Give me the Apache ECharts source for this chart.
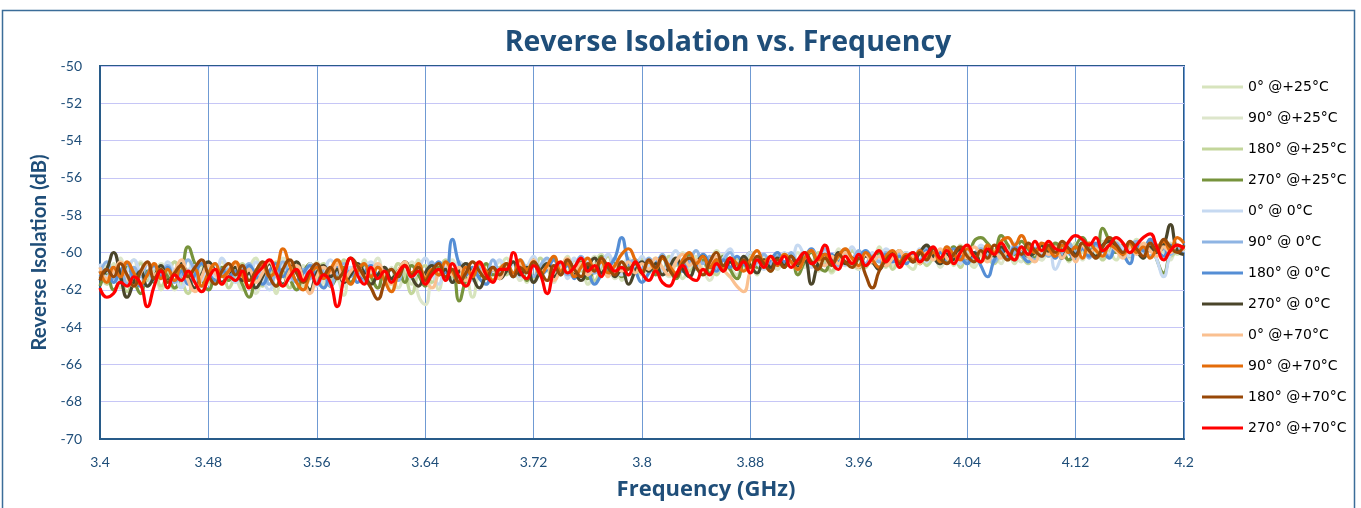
<!DOCTYPE html>
<html>
<head>
<meta charset="utf-8">
<title>Reverse Isolation vs. Frequency</title>
<script src="https://cdn.jsdelivr.net/npm/echarts@6.0.0/dist/echarts.min.js"></script>
<style>
    html, body {margin: 0; padding: 0; background: #ffffff;}
    #main {width: 1361px; height: 508px;}
</style>
</head>
<body>
<div id="main"></div>
<script>
// x axis ticks (GHz), one label every 16 samples
var aXTicks = ['3.4', '3.48', '3.56', '3.64', '3.72', '3.8', '3.88', '3.96', '4.04', '4.12', '4.2'];

// legend names, in drawing order
var aSeriesNames = ['0° @+25°C', '90° @+25°C', '180° @+25°C', '270° @+25°C',
    '0° @ 0°C', '90° @ 0°C', '180° @ 0°C', '270° @ 0°C',
    '0° @+70°C', '90° @+70°C', '180° @+70°C', '270° @+70°C'];

// reverse isolation (dB), 161 samples from 3.4 to 4.2 GHz, step 5 MHz
var aP0T25 = [
    -60.8,-61.5,-60.6,-61.9,-61.0,-60.4,-61.6,-61.2,-60.7,-62.0,-61.3,-60.5,-61.8,-60.9,-61.4,-62.1,-60.8,-61.0,-61.7,-60.6,
    -61.3,-62.0,-60.9,-60.3,-61.5,-61.0,-62.2,-60.7,-61.2,-60.5,-61.8,-61.4,-60.6,-61.9,-60.9,-61.3,-62.3,-60.8,-61.1,-60.4,
    -61.6,-60.7,-61.2,-62.1,-60.6,-61.0,-61.7,-60.4,-61.3,-60.9,-62.0,-60.8,-61.4,-60.5,-61.1,-62.4,-61.0,-60.6,-61.5,-60.9,
    -60.3,-61.2,-60.7,-61.6,-60.5,-61.0,-60.4,-61.4,-60.9,-60.2,-61.3,-60.8,-61.7,-60.6,-60.1,-61.1,-60.7,-61.5,-60.4,-60.9,
    -61.2,-60.4,-60.9,-60.1,-61.0,-60.5,-61.4,-60.7,-60.2,-61.1,-60.6,-59.9,-60.8,-61.3,-60.4,-60.9,-60.1,-61.2,-60.5,-60.7,
    -60.0,-60.8,-60.3,-61.0,-60.5,-59.9,-60.7,-60.2,-61.1,-60.4,-59.8,-60.6,-60.9,-60.1,-60.5,-59.7,-60.8,-60.3,-60.0,-60.6,
    -60.9,-60.1,-60.5,-59.8,-60.4,-60.0,-60.7,-59.6,-60.3,-60.8,-60.1,-59.9,-60.5,-60.2,-59.7,-60.6,-60.0,-60.3,-59.8,-60.4,
    -59.6,-60.2,-59.8,-60.5,-59.5,-60.0,-59.7,-60.3,-59.4,-59.9,-60.4,-59.6,-60.1,-59.3,-59.8,-60.2,-59.7,-60.0,-59.5,-60.1,
    -59.8];
var aP90T25 = [
    -61.4,-60.7,-61.1,-60.3,-61.6,-61.0,-60.5,-61.8,-61.2,-60.6,-61.3,-62.0,-61.0,-60.4,-61.5,-60.9,-61.7,-61.1,-60.5,-61.3,
    -60.8,-61.6,-61.0,-62.2,-61.3,-60.6,-61.1,-60.3,-61.4,-61.9,-60.7,-61.2,-60.5,-61.6,-61.0,-60.4,-61.8,-61.1,-60.7,-61.5,
    -61.0,-60.3,-61.4,-60.8,-61.9,-61.1,-60.5,-62.3,-62.8,-61.2,-60.6,-61.0,-60.4,-61.5,-60.9,-61.3,-60.6,-61.7,-61.0,-60.5,
    -61.1,-60.6,-61.5,-60.9,-60.3,-61.2,-60.8,-61.6,-60.5,-61.0,-60.4,-61.3,-60.7,-60.2,-61.1,-60.6,-61.4,-60.9,-60.3,-61.0,
    -60.5,-61.1,-60.3,-60.8,-61.3,-60.6,-60.0,-61.0,-60.4,-60.9,-61.5,-60.5,-60.1,-60.8,-61.2,-60.3,-60.7,-61.0,-60.2,-60.6,
    -60.9,-60.2,-60.6,-60.0,-60.8,-60.4,-61.0,-60.1,-60.5,-59.8,-60.7,-60.3,-60.9,-60.0,-60.6,-60.2,-59.9,-60.7,-60.4,-60.1,
    -60.5,-59.9,-60.6,-60.2,-60.8,-60.0,-59.7,-60.4,-60.1,-60.7,-59.8,-60.3,-60.0,-60.6,-59.9,-60.2,-60.5,-59.8,-60.1,-60.4,
    -59.9,-60.3,-59.6,-60.1,-59.8,-60.4,-59.5,-60.0,-59.7,-60.2,-59.4,-59.9,-60.3,-59.6,-60.0,-59.5,-60.2,-59.8,-60.4,-59.7,
    -60.0];
var aP180T25 = [
    -61.0,-61.7,-60.8,-61.3,-62.1,-61.2,-60.6,-61.5,-60.9,-61.8,-61.1,-60.5,-61.4,-62.2,-61.0,-60.7,-61.6,-61.2,-60.8,-61.9,
    -61.2,-60.6,-61.5,-60.9,-61.8,-61.3,-60.5,-61.1,-61.9,-60.8,-61.4,-62.0,-61.0,-60.6,-61.5,-61.1,-60.4,-61.7,-61.0,-60.7,
    -61.3,-61.9,-60.8,-61.4,-60.6,-61.2,-62.2,-61.1,-60.7,-61.6,-61.0,-60.4,-61.3,-60.9,-61.8,-61.2,-60.6,-61.0,-61.5,-60.8,
    -61.2,-60.5,-61.0,-60.7,-61.4,-60.3,-60.9,-61.3,-60.6,-61.1,-60.4,-61.0,-60.6,-61.5,-60.8,-60.2,-61.0,-60.5,-61.2,-60.7,
    -60.3,-60.9,-60.5,-61.1,-60.2,-60.7,-60.4,-61.0,-60.6,-60.1,-60.8,-61.2,-60.4,-60.9,-60.3,-60.6,-61.1,-60.2,-60.8,-60.5,
    -60.1,-60.6,-60.3,-60.9,-60.2,-60.7,-60.0,-60.5,-61.0,-60.3,-60.6,-59.9,-60.4,-60.8,-60.1,-60.5,-60.2,-60.9,-60.3,-60.0,
    -60.4,-60.0,-60.7,-60.3,-59.9,-60.5,-60.2,-60.8,-60.0,-60.4,-59.8,-60.3,-60.6,-60.1,-60.4,-59.9,-60.2,-60.6,-60.0,-59.8,
    -60.2,-59.7,-60.0,-59.5,-60.3,-59.8,-60.1,-59.6,-60.4,-59.9,-59.7,-60.1,-59.5,-59.9,-60.3,-59.7,-60.0,-59.6,-60.2,-59.9,
    -59.7];
var aP270T25 = [
    -61.8,-61.2,-62.0,-61.4,-60.8,-61.5,-62.2,-61.0,-61.6,-60.9,-61.3,-61.9,-61.1,-59.7,-60.6,-61.4,-62.0,-61.2,-60.8,-61.5,
    -61.0,-61.7,-62.4,-61.3,-60.7,-61.2,-61.8,-60.9,-61.4,-62.0,-61.1,-60.6,-61.5,-61.0,-61.8,-61.3,-60.8,-61.6,-61.1,-60.7,
    -61.3,-61.9,-60.9,-61.5,-61.0,-61.6,-60.7,-61.2,-61.8,-61.1,-60.8,-61.4,-61.0,-62.6,-61.5,-60.9,-61.3,-60.6,-61.2,-61.0,
    -60.7,-61.3,-60.9,-61.5,-60.4,-61.1,-60.8,-60.3,-61.2,-60.6,-61.0,-60.5,-61.4,-60.9,-60.2,-61.0,-60.6,-61.3,-60.8,-60.4,
    -61.0,-60.5,-61.2,-60.3,-60.8,-61.4,-60.6,-60.1,-60.9,-60.4,-61.1,-60.7,-60.2,-60.9,-61.4,-60.5,-60.0,-60.8,-60.4,-61.0,
    -60.3,-60.8,-60.1,-61.2,-60.5,-60.0,-60.7,-61.0,-60.2,-60.6,-59.9,-60.4,-60.8,-60.1,-60.5,-60.0,-60.7,-60.3,-59.9,-60.5,
    -60.1,-60.6,-59.8,-60.3,-60.0,-60.5,-59.7,-60.2,-60.4,-59.4,-59.2,-59.5,-59.9,-59.1,-59.6,-60.1,-59.4,-59.8,-60.3,-59.6,
    -60.0,-59.5,-59.9,-60.4,-59.7,-59.2,-59.8,-60.3,-58.7,-59.4,-60.0,-59.6,-60.2,-59.5,-59.9,-59.3,-60.4,-61.1,-60.0,-59.6,
    -59.9];
var aP0T0 = [
    -60.6,-61.3,-60.9,-61.7,-61.0,-60.4,-61.2,-61.8,-60.8,-61.4,-60.5,-61.1,-61.9,-61.0,-60.7,-61.5,-60.9,-61.3,-60.3,-61.0,
    -61.6,-60.8,-61.2,-60.5,-61.4,-62.0,-61.1,-60.7,-61.5,-60.9,-61.3,-60.6,-61.8,-61.2,-60.4,-61.0,-61.6,-60.8,-61.3,-60.9,
    -60.5,-61.2,-60.8,-61.6,-61.0,-60.6,-61.4,-60.9,-60.3,-61.1,-61.7,-60.8,-61.2,-60.5,-61.0,-61.5,-60.7,-61.3,-60.9,-60.4,
    -61.0,-60.6,-61.3,-60.8,-60.2,-61.1,-60.5,-61.0,-60.7,-61.4,-60.3,-60.9,-60.5,-61.1,-60.6,-60.1,-60.9,-61.2,-60.4,-60.8,
    -60.2,-60.7,-60.4,-61.0,-60.5,-59.9,-60.6,-60.3,-60.9,-60.1,-60.5,-61.0,-60.3,-59.8,-60.7,-60.4,-60.0,-60.6,-60.9,-60.2,
    -60.6,-60.0,-60.4,-59.6,-60.2,-60.8,-60.3,-59.9,-60.5,-60.1,-60.7,-59.7,-60.3,-60.6,-60.0,-60.4,-59.8,-60.2,-60.6,-60.0,
    -60.3,-59.8,-60.5,-60.0,-60.3,-59.7,-60.1,-60.6,-59.9,-60.2,-59.6,-60.0,-60.4,-59.8,-60.2,-59.5,-59.9,-60.3,-59.7,-60.1,
    -59.6,-60.9,-60.2,-59.7,-60.0,-59.4,-59.9,-60.3,-59.6,-60.1,-59.5,-59.8,-60.2,-59.6,-60.0,-59.5,-60.4,-61.3,-60.1,-59.7,
    -60.0];
var aP90T0 = [
    -61.1,-60.5,-61.4,-61.0,-61.7,-60.8,-61.3,-60.6,-61.5,-61.1,-60.7,-61.6,-61.2,-60.4,-61.0,-61.8,-61.3,-60.6,-61.2,-60.9,
    -61.5,-61.0,-60.6,-61.3,-60.8,-61.7,-61.1,-60.5,-61.2,-61.6,-60.9,-61.4,-60.7,-61.1,-61.8,-61.0,-60.6,-61.3,-60.9,-61.5,
    -61.0,-60.7,-61.3,-60.9,-61.5,-60.6,-61.1,-60.8,-61.4,-60.5,-61.2,-60.9,-61.6,-61.0,-60.6,-61.3,-60.8,-61.1,-60.4,-61.0,
    -60.6,-61.1,-60.4,-60.9,-61.3,-60.7,-60.3,-61.0,-60.6,-61.2,-60.8,-60.2,-60.9,-61.1,-60.5,-60.8,-60.3,-61.0,-60.6,-60.4,
    -60.9,-60.3,-60.7,-60.1,-60.8,-60.4,-61.0,-60.5,-59.9,-60.6,-60.2,-60.8,-60.4,-60.0,-60.7,-60.3,-60.9,-60.5,-60.1,-60.6,
    -60.2,-60.7,-60.0,-60.5,-60.1,-60.6,-60.3,-59.8,-60.4,-60.7,-60.0,-60.3,-59.9,-60.6,-60.2,-60.5,-60.0,-60.4,-60.1,-60.5,
    -60.0,-60.4,-59.8,-60.3,-60.6,-60.0,-60.3,-59.9,-60.5,-60.1,-59.8,-60.2,-60.5,-59.9,-60.3,-60.0,-59.7,-60.2,-60.4,-59.9,
    -60.2,-59.8,-60.1,-59.5,-60.0,-59.7,-60.3,-59.6,-59.9,-60.2,-59.5,-60.0,-59.7,-59.4,-59.9,-60.2,-59.6,-59.8,-60.1,-59.7,
    -59.9];
var aP180T0 = [
    -61.3,-60.9,-61.6,-61.0,-60.6,-61.4,-61.8,-61.1,-60.7,-61.3,-60.8,-61.5,-61.0,-61.7,-61.2,-60.6,-61.1,-61.5,-60.9,-61.3,
    -61.0,-61.4,-60.7,-61.2,-61.7,-61.0,-60.6,-61.3,-60.9,-61.5,-61.1,-60.7,-61.4,-61.9,-61.2,-60.8,-61.3,-61.0,-61.6,-61.1,
    -60.7,-61.2,-60.9,-61.5,-61.0,-60.6,-61.3,-60.8,-61.4,-61.0,-60.5,-61.1,-59.3,-60.6,-61.2,-60.8,-61.4,-61.7,-60.9,-61.2,
    -60.8,-61.3,-60.6,-61.0,-60.5,-61.2,-60.9,-60.4,-61.1,-60.7,-61.4,-60.6,-61.0,-61.7,-61.2,-60.8,-60.3,-59.2,-60.5,-61.0,
    -61.6,-61.1,-60.6,-60.2,-60.8,-60.4,-61.0,-60.3,-60.7,-60.1,-60.6,-61.0,-60.4,-60.8,-60.2,-60.6,-60.9,-60.3,-60.7,-60.4,
    -60.0,-60.5,-60.2,-60.8,-60.3,-59.8,-60.4,-60.7,-60.1,-60.5,-60.0,-60.6,-60.3,-59.9,-60.4,-60.8,-60.1,-60.5,-60.2,-60.6,
    -60.1,-60.5,-59.9,-60.3,-60.0,-60.4,-59.8,-60.2,-60.6,-60.0,-60.7,-61.3,-60.4,-59.9,-60.2,-59.7,-60.1,-60.5,-59.8,-60.2,
    -59.9,-60.3,-59.6,-60.0,-60.4,-59.8,-60.2,-59.5,-59.9,-60.3,-59.7,-60.1,-60.6,-59.6,-59.9,-59.3,-59.8,-60.2,-59.6,-59.9,
    -60.1];
var aP270T0 = [
    -61.4,-60.9,-60.0,-61.2,-62.4,-61.6,-61.0,-61.8,-61.3,-60.7,-61.5,-61.1,-60.6,-61.3,-61.9,-61.2,-60.5,-61.0,-61.6,-61.1,
    -60.8,-61.5,-61.1,-61.9,-61.3,-60.6,-61.2,-61.7,-61.0,-60.5,-61.4,-62.0,-61.1,-60.7,-61.3,-60.9,-61.6,-61.2,-60.6,-61.1,
    -61.7,-61.2,-60.8,-61.4,-61.0,-60.5,-61.3,-61.8,-61.1,-60.7,-61.2,-60.9,-61.6,-61.0,-60.6,-61.3,-61.9,-61.2,-60.8,-61.4,
    -61.0,-60.5,-61.2,-60.8,-61.6,-61.0,-60.6,-61.3,-60.9,-60.4,-61.0,-61.5,-60.8,-60.3,-61.1,-60.7,-61.3,-60.9,-61.7,-61.0,
    -60.5,-61.0,-60.6,-61.2,-60.8,-60.3,-60.9,-61.3,-60.6,-60.2,-60.8,-60.4,-61.0,-60.5,-60.9,-60.2,-60.7,-61.1,-60.4,-60.8,
    -60.3,-60.7,-60.2,-60.8,-60.4,-61.7,-60.6,-60.1,-60.5,-60.0,-60.6,-60.3,-60.8,-60.2,-60.5,-60.9,-60.3,-60.0,-60.6,-60.2,
    -60.5,-60.0,-59.6,-60.2,-60.6,-60.1,-60.4,-59.8,-60.3,-60.0,-60.5,-59.9,-60.2,-59.7,-60.1,-60.4,-59.8,-60.2,-60.0,-59.6,
    -60.0,-59.7,-60.3,-59.8,-60.1,-59.5,-59.9,-60.2,-59.6,-59.4,-59.8,-60.2,-59.5,-59.9,-60.3,-59.7,-60.0,-59.6,-58.5,-59.9,
    -60.1];
var aP0T70 = [
    -60.8,-61.4,-61.0,-60.5,-61.3,-61.8,-61.1,-60.6,-61.2,-60.9,-61.6,-61.0,-60.4,-61.5,-62.1,-61.3,-60.7,-61.1,-61.7,-61.0,
    -60.6,-61.3,-60.9,-61.6,-61.1,-60.5,-61.2,-61.8,-61.0,-60.7,-61.4,-62.2,-61.3,-60.8,-61.1,-60.6,-61.5,-61.0,-60.7,-61.3,
    -61.0,-60.6,-61.2,-61.7,-61.0,-60.5,-61.3,-60.8,-61.4,-61.9,-61.1,-60.6,-61.2,-60.8,-61.5,-61.0,-60.5,-61.2,-60.9,-61.4,
    -60.7,-61.2,-60.6,-61.0,-60.4,-61.1,-60.8,-61.5,-60.9,-60.3,-61.0,-60.6,-61.2,-60.8,-60.4,-61.3,-60.7,-61.0,-60.5,-61.1,
    -60.6,-60.9,-60.3,-60.8,-61.2,-60.5,-60.1,-60.7,-60.4,-61.0,-60.6,-60.2,-60.9,-61.3,-61.8,-62.1,-61.0,-60.4,-60.8,-60.3,
    -60.6,-60.1,-60.5,-60.9,-60.3,-59.9,-60.4,-60.7,-60.2,-60.6,-60.0,-60.4,-60.8,-60.1,-60.5,-60.2,-60.7,-60.3,-59.9,-60.4,
    -60.2,-60.6,-60.0,-60.4,-59.8,-60.3,-60.6,-60.0,-60.3,-59.7,-60.1,-60.5,-59.9,-60.3,-60.0,-60.4,-59.8,-60.2,-60.5,-59.9,
    -60.1,-59.7,-60.3,-59.9,-60.5,-59.6,-60.0,-59.8,-60.2,-59.6,-59.9,-60.3,-59.7,-60.1,-59.5,-59.9,-60.2,-59.7,-60.0,-59.6,
    -59.9];
var aP90T70 = [
    -61.0,-61.6,-60.8,-61.3,-60.5,-61.1,-61.7,-61.2,-60.6,-61.4,-60.9,-61.5,-60.7,-61.2,-60.9,-61.8,-61.1,-60.6,-61.3,-61.0,
    -60.5,-61.2,-61.8,-61.0,-60.6,-61.3,-60.9,-59.8,-60.7,-61.6,-62.0,-61.2,-60.8,-61.4,-60.9,-60.4,-61.1,-61.7,-61.0,-60.6,
    -61.3,-60.8,-61.5,-62.1,-61.2,-60.7,-61.1,-60.6,-61.4,-60.9,-61.2,-60.5,-61.0,-61.6,-60.8,-61.3,-60.6,-61.0,-61.5,-60.9,
    -60.6,-61.1,-60.4,-60.9,-60.5,-61.2,-60.7,-60.2,-61.0,-60.6,-61.3,-60.8,-60.3,-60.9,-60.5,-61.1,-60.7,-60.1,-59.8,-60.4,
    -61.0,-60.5,-60.9,-60.3,-60.7,-61.1,-60.4,-60.0,-60.6,-60.2,-60.8,-60.4,-60.9,-60.3,-60.6,-61.0,-60.4,-59.9,-60.5,-60.2,
    -60.7,-60.1,-60.5,-60.9,-60.3,-59.9,-60.4,-60.1,-60.6,-60.2,-59.8,-60.3,-60.7,-60.0,-60.4,-60.8,-60.2,-59.9,-60.5,-60.1,
    -60.4,-59.9,-60.3,-60.0,-60.5,-59.7,-60.1,-60.4,-59.8,-60.2,-60.5,-59.6,-60.0,-59.4,-59.2,-59.6,-59.1,-59.7,-60.0,-59.5,
    -59.8,-60.2,-59.6,-60.0,-59.7,-60.3,-59.5,-59.9,-60.2,-59.6,-59.8,-60.1,-59.5,-60.0,-59.7,-60.3,-59.8,-59.4,-59.9,-59.2,
    -59.5];
var aP180T70 = [
    -61.5,-60.9,-61.3,-60.6,-61.2,-61.8,-61.0,-60.5,-61.4,-60.9,-61.6,-61.1,-60.7,-61.3,-60.8,-60.4,-61.2,-61.7,-61.0,-60.6,
    -61.2,-60.7,-61.5,-61.0,-60.5,-61.3,-61.8,-60.9,-60.4,-61.1,-61.6,-61.0,-60.6,-61.2,-60.8,-61.4,-61.0,-60.3,-60.7,-61.3,
    -61.9,-62.5,-61.6,-60.9,-61.3,-60.7,-61.2,-60.8,-61.5,-61.0,-60.6,-61.3,-60.9,-61.6,-61.1,-60.5,-61.0,-61.4,-60.8,-61.2,
    -60.6,-61.3,-60.8,-61.1,-60.5,-61.0,-61.5,-60.7,-61.2,-60.4,-60.9,-61.3,-60.6,-61.0,-60.3,-60.8,-61.2,-60.5,-60.9,-60.6,
    -61.1,-60.4,-60.8,-60.2,-60.9,-61.3,-60.6,-60.3,-60.8,-61.2,-60.5,-60.0,-60.7,-60.3,-60.9,-60.4,-60.8,-60.2,-60.6,-61.0,
    -60.4,-60.8,-60.2,-60.6,-60.0,-60.5,-60.9,-60.3,-60.7,-60.1,-60.5,-60.8,-60.3,-61.2,-61.9,-61.0,-60.4,-60.1,-60.6,-60.2,
    -60.5,-60.0,-60.4,-59.8,-60.3,-60.6,-60.1,-59.7,-60.2,-60.5,-59.9,-60.3,-59.6,-60.0,-60.4,-59.8,-60.1,-59.5,-59.9,-60.2,
    -59.6,-60.0,-59.4,-59.8,-60.2,-59.5,-59.9,-60.3,-59.7,-59.2,-59.6,-60.0,-59.4,-59.8,-60.2,-59.5,-59.9,-59.3,-59.7,-60.0,
    -59.6];
var aP270T70 = [
    -61.9,-62.4,-62.2,-61.6,-61.8,-61.3,-61.7,-62.9,-61.8,-61.0,-61.9,-61.2,-61.5,-61.0,-61.6,-62.1,-61.4,-60.9,-61.7,-61.3,
    -61.5,-61.0,-61.9,-61.2,-60.8,-60.4,-61.1,-61.8,-61.3,-60.9,-61.5,-61.0,-61.7,-61.2,-61.6,-62.9,-61.4,-60.3,-61.2,-61.7,
    -60.8,-61.4,-61.0,-61.6,-61.1,-60.7,-61.3,-61.0,-61.7,-61.2,-60.9,-61.5,-60.6,-61.3,-61.8,-61.1,-60.5,-61.2,-61.6,-60.9,
    -60.9,-60.0,-61.0,-61.4,-60.7,-61.2,-62.2,-61.0,-60.5,-61.1,-60.8,-60.3,-61.0,-60.7,-61.3,-60.6,-61.0,-60.8,-61.2,-60.5,
    -61.1,-61.5,-61.0,-61.6,-61.8,-61.2,-60.7,-61.3,-61.5,-60.9,-61.2,-60.6,-61.0,-60.3,-60.9,-60.5,-61.1,-60.4,-60.8,-60.2,
    -60.6,-60.2,-60.8,-60.4,-60.0,-60.6,-60.3,-59.6,-60.5,-60.9,-60.2,-60.6,-60.1,-60.7,-60.3,-59.9,-60.5,-60.1,-60.8,-60.3,
    -60.0,-60.5,-60.1,-59.7,-60.3,-59.9,-60.6,-60.0,-59.6,-60.2,-60.5,-59.8,-60.1,-59.5,-60.0,-60.4,-59.7,-60.1,-59.4,-59.9,
    -59.4,-59.8,-59.9,-59.4,-59.1,-59.3,-59.6,-59.2,-59.9,-59.6,-59.2,-59.5,-60.0,-59.6,-59.2,-59.0,-59.7,-60.4,-59.9,-59.6,
    -59.8];

var aSeriesValues = [aP0T25, aP90T25, aP180T25, aP270T25, aP0T0, aP90T0, aP180T0, aP270T0,
    aP0T70, aP90T70, aP180T70, aP270T70];

// line colours, same order as the names (Excel palette)
var aLineColor = ['#d7e4bd', '#dde6cb', '#c3d69b', '#77933c',
    '#c6d9f1', '#8eb4e3', '#558ed5', '#4a452a',
    '#fac090', '#e46c0a', '#984807', '#ff0000'];

var sNavy = '#1f4e79';

// sampling grid on the category axis: 3.400 ... 4.200
function GetFreqList() {
    var aFreq = [];
    for (var i = 0; i <= 160; i++) {
        aFreq.push((3.4 + i * 0.005).toFixed(3));
    }
    return aFreq
}

function GetSeries() {
    var aSeries = [];
    for (var i = 0; i < aSeriesNames.length; i++) {
        aSeries.push({
            name: aSeriesNames[i],
            type: 'line',
            data: aSeriesValues[i],
            smooth: 0.5,
            symbol: 'none',
            lineStyle: {width: 3.2, color: aLineColor[i]},
            itemStyle: {color: aLineColor[i]}
        });
    }
    return aSeries
}

function GetOption() {
    var jOption = {
        animation: false,
        backgroundColor: '#ffffff',
        // outer chart frame
        graphic: [{
            type: 'rect',
            shape: {x: 2.5, y: 10.5, width: 1352, height: 520},
            style: {fill: 'none', stroke: '#3b6d99', lineWidth: 1.5},
            silent: true
        }],
        title: {
            text: 'Reverse Isolation vs. Frequency',
            left: 723,
            top: 23,
            textAlign: 'center',
            textStyle: {fontFamily: 'Open Sans', fontWeight: 'bold', fontSize: 28.5, color: sNavy}
        },
        legend: {
            orient: 'vertical',
            left: 1197,
            top: 75,
            itemWidth: 41,
            itemHeight: 14,
            itemGap: 17,
            // plain line marker, no symbol
            icon: 'path://M0,0 L40,0 L40,3 L0,3 Z',
            data: aSeriesNames,
            textStyle: {fontFamily: 'DejaVu Sans', fontSize: 14, color: '#000000'}
        },
        grid: {
            left: 100,
            right: 177,
            top: 66,
            bottom: 69,
            show: true,
            borderColor: '#285b89',
            borderWidth: 2
        },
        xAxis: {
            type: 'category',
            boundaryGap: false,
            data: GetFreqList(),
            name: 'Frequency (GHz)',
            nameLocation: 'middle',
            nameGap: 40,
            nameTextStyle: {fontFamily: 'Open Sans', fontWeight: 'bold', fontSize: 22, color: sNavy, padding: [0, 0, 0, 128]},
            axisLine: {lineStyle: {color: '#285b89', width: 2}},
            axisTick: {show: false},
            axisLabel: {
                interval: 15,
                margin: 16,
                fontFamily: 'Lato',
                fontSize: 14,
                color: sNavy,
                formatter: function (sVal, iIdx) {
                    return aXTicks[Math.round(iIdx / 16)];
                }
            },
            splitLine: {show: true, interval: 15, lineStyle: {color: '#6f9ad3', width: 1}}
        },
        yAxis: {
            type: 'value',
            min: -70,
            max: -50,
            interval: 2,
            name: 'Reverse Isolation (dB)',
            nameLocation: 'middle',
            nameGap: 48,
            nameTextStyle: {fontFamily: 'Lato', fontWeight: 'bold', fontSize: 20.5, color: sNavy},
            axisLine: {show: true, lineStyle: {color: '#285b89', width: 2}},
            axisTick: {show: false},
            axisLabel: {margin: 18, fontFamily: 'Lato', fontSize: 14, color: sNavy},
            splitLine: {show: true, lineStyle: {color: '#c6c6f6', width: 1}}
        },
        series: GetSeries()
    };
    return jOption
}

function drawChart(sTagID) {
    var oDom = document.getElementById(sTagID);
    var oChart = echarts.init(oDom, null, {renderer: 'canvas'});
    oChart.setOption(GetOption());
    return oChart
}

drawChart('main');
</script>
</body>
</html>
